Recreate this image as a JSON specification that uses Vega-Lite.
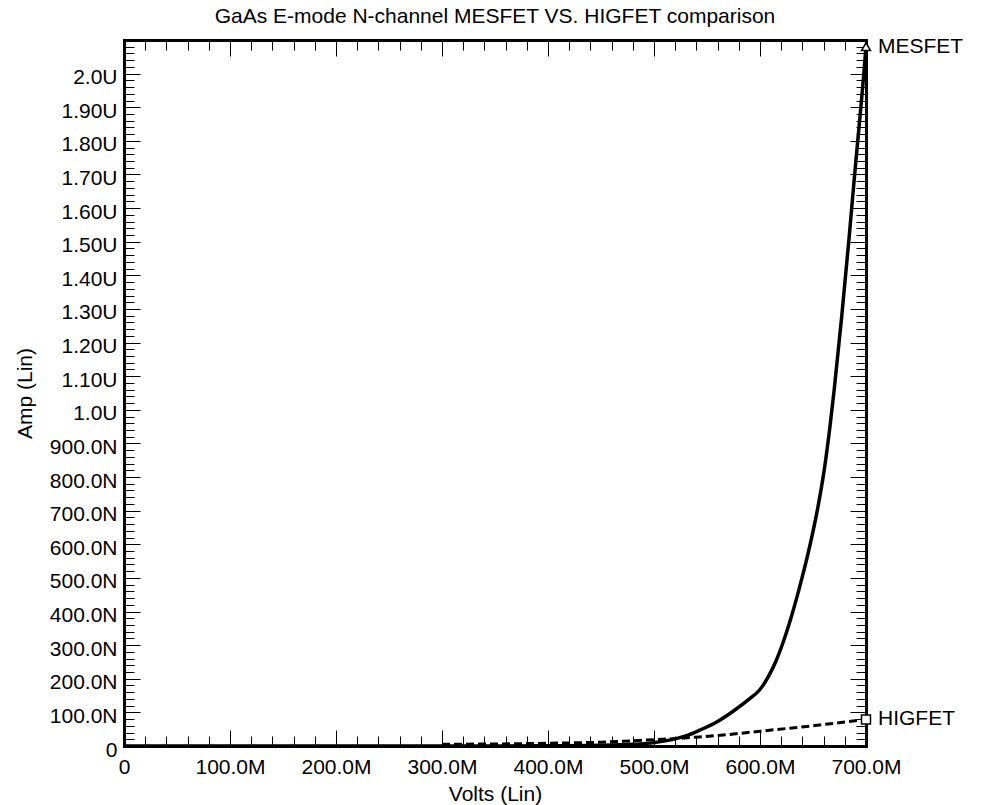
{
  "$schema": "https://vega.github.io/schema/vega-lite/v6.json",
  "width": 742,
  "height": 706,
  "autosize": {"type": "none"},
  "padding": {"left": 124, "top": 40, "right": 115, "bottom": 59},
  "background": "white",
  "title": {"text": "GaAs E-mode N-channel MESFET VS. HIGFET comparison", "font": "Liberation Sans", "fontSize": 21, "fontWeight": "normal", "color": "black", "offset": 9, "anchor": "middle"},
  "config": {
    "view": {"stroke": null},
    "axis": {"labelFont": "Liberation Sans", "titleFont": "Liberation Sans", "labelFontSize": 21, "titleFontSize": 21, "titleFontWeight": "normal", "labelColor": "black", "titleColor": "black", "grid": false, "domainColor": "black", "tickColor": "black", "labelOverlap": false, "labelFlush": false, "labelBound": false}
  },
  "data": {"values": [
    {"device": "MESFET", "mV": 0, "nA": 0},
    {"device": "MESFET", "mV": 100, "nA": 0},
    {"device": "MESFET", "mV": 200, "nA": 0},
    {"device": "MESFET", "mV": 300, "nA": 0},
    {"device": "MESFET", "mV": 400, "nA": 0.5},
    {"device": "MESFET", "mV": 450, "nA": 2},
    {"device": "MESFET", "mV": 480, "nA": 5},
    {"device": "MESFET", "mV": 500, "nA": 10},
    {"device": "MESFET", "mV": 517, "nA": 19},
    {"device": "MESFET", "mV": 530, "nA": 30},
    {"device": "MESFET", "mV": 543, "nA": 47},
    {"device": "MESFET", "mV": 560, "nA": 73},
    {"device": "MESFET", "mV": 574, "nA": 102},
    {"device": "MESFET", "mV": 590, "nA": 140},
    {"device": "MESFET", "mV": 600, "nA": 168},
    {"device": "MESFET", "mV": 608, "nA": 207},
    {"device": "MESFET", "mV": 615, "nA": 252},
    {"device": "MESFET", "mV": 622, "nA": 310},
    {"device": "MESFET", "mV": 628, "nA": 368},
    {"device": "MESFET", "mV": 637, "nA": 468},
    {"device": "MESFET", "mV": 647, "nA": 595},
    {"device": "MESFET", "mV": 654, "nA": 700},
    {"device": "MESFET", "mV": 661, "nA": 830},
    {"device": "MESFET", "mV": 666, "nA": 950},
    {"device": "MESFET", "mV": 670, "nA": 1060},
    {"device": "MESFET", "mV": 677, "nA": 1275},
    {"device": "MESFET", "mV": 684, "nA": 1510},
    {"device": "MESFET", "mV": 689, "nA": 1690},
    {"device": "MESFET", "mV": 694, "nA": 1860},
    {"device": "MESFET", "mV": 697, "nA": 1965},
    {"device": "MESFET", "mV": 700, "nA": 2080},
    {"device": "HIGFET", "mV": 300, "nA": 5},
    {"device": "HIGFET", "mV": 350, "nA": 6},
    {"device": "HIGFET", "mV": 400, "nA": 8},
    {"device": "HIGFET", "mV": 450, "nA": 11},
    {"device": "HIGFET", "mV": 489, "nA": 17},
    {"device": "HIGFET", "mV": 520, "nA": 22},
    {"device": "HIGFET", "mV": 543, "nA": 27},
    {"device": "HIGFET", "mV": 570, "nA": 34},
    {"device": "HIGFET", "mV": 600, "nA": 44},
    {"device": "HIGFET", "mV": 650, "nA": 60},
    {"device": "HIGFET", "mV": 700, "nA": 79}
  ]},
  "resolve": {"axis": {"x": "independent", "y": "independent"}},
  "layer": [
    {
      "transform": [{"filter": "datum.device === 'MESFET'"}],
      "mark": {"type": "line", "stroke": "black", "strokeWidth": 3.5, "interpolate": "monotone"},
      "encoding": {
        "x": {"field": "mV", "type": "quantitative", "scale": {"domain": [0, 700], "nice": false, "zero": false},
          "axis": {"orient": "bottom", "title": null, "labels": false, "values": [0,20,40,60,80,100,120,140,160,180,200,220,240,260,280,300,320,340,360,380,400,420,440,460,480,500,520,540,560,580,600,620,640,660,680,700],
            "tickSize": {"condition": {"test": "datum.value % 100 === 0", "value": -16}, "value": -10}, "tickWidth": 1, "domainWidth": 3, "domainCap": "square"}},
        "y": {"field": "nA", "type": "quantitative", "scale": {"domain": [0, 2100], "nice": false, "zero": false},
          "axis": {"orient": "left", "title": null, "labels": false, "values": [0,20,40,60,80,100,120,140,160,180,200,220,240,260,280,300,320,340,360,380,400,420,440,460,480,500,520,540,560,580,600,620,640,660,680,700,720,740,760,780,800,820,840,860,880,900,920,940,960,980,1000,1020,1040,1060,1080,1100,1120,1140,1160,1180,1200,1220,1240,1260,1280,1300,1320,1340,1360,1380,1400,1420,1440,1460,1480,1500,1520,1540,1560,1580,1600,1620,1640,1660,1680,1700,1720,1740,1760,1780,1800,1820,1840,1860,1880,1900,1920,1940,1960,1980,2000,2020,2040,2060,2080],
            "tickSize": {"condition": {"test": "datum.value % 100 === 0", "value": -16}, "value": -10}, "tickWidth": 1, "domainWidth": 3, "domainCap": "square"}}
      }
    },
    {
      "transform": [{"filter": "datum.device === 'HIGFET'"}],
      "mark": {"type": "line", "stroke": "black", "strokeWidth": 3, "strokeDash": [8, 4]},
      "encoding": {
        "x": {"field": "mV", "type": "quantitative",
          "axis": {"orient": "top", "title": null, "labels": false, "values": [0,20,40,60,80,100,120,140,160,180,200,220,240,260,280,300,320,340,360,380,400,420,440,460,480,500,520,540,560,580,600,620,640,660,680,700],
            "tickSize": {"condition": {"test": "datum.value % 100 === 0", "value": -16}, "value": -10}, "tickWidth": 1, "domainWidth": 3, "domainCap": "square"}},
        "y": {"field": "nA", "type": "quantitative",
          "axis": {"orient": "right", "title": null, "labels": false, "values": [0,20,40,60,80,100,120,140,160,180,200,220,240,260,280,300,320,340,360,380,400,420,440,460,480,500,520,540,560,580,600,620,640,660,680,700,720,740,760,780,800,820,840,860,880,900,920,940,960,980,1000,1020,1040,1060,1080,1100,1120,1140,1160,1180,1200,1220,1240,1260,1280,1300,1320,1340,1360,1380,1400,1420,1440,1460,1480,1500,1520,1540,1560,1580,1600,1620,1640,1660,1680,1700,1720,1740,1760,1780,1800,1820,1840,1860,1880,1900,1920,1940,1960,1980,2000,2020,2040,2060,2080],
            "tickSize": {"condition": {"test": "datum.value % 100 === 0", "value": -16}, "value": -10}, "tickWidth": 1, "domainWidth": 3, "domainCap": "square"}}
      }
    },
    {
      "transform": [{"filter": "datum.mV === 700"}],
      "mark": {"type": "point", "filled": true, "fill": "white", "stroke": "black", "strokeWidth": 1.5, "size": 80, "opacity": 1},
      "encoding": {
        "x": {"field": "mV", "type": "quantitative",
          "axis": {"orient": "bottom", "title": "Volts (Lin)", "titlePadding": 6, "ticks": false, "domain": false, "values": [0,100,200,300,400,500,600,700], "labelPadding": 10,
            "labelExpr": "datum.value === 0 ? '0' : datum.value + '.0M'"}},
        "y": {"field": "nA", "type": "quantitative",
          "axis": {"orient": "left", "title": "Amp (Lin)", "titlePadding": 14, "ticks": false, "domain": false, "values": [0,100,200,300,400,500,600,700,800,900,1000,1100,1200,1300,1400,1500,1600,1700,1800,1900,2000], "labelPadding": 7, "labelOffset": 4,
            "labelExpr": "datum.value === 0 ? '0' : datum.value < 1000 ? datum.value + '.0N' : datum.value % 1000 === 0 ? (datum.value / 1000) + '.0U' : format(datum.value / 1000, '.2f') + 'U'"}},
        "shape": {"field": "device", "type": "nominal", "scale": {"domain": ["MESFET", "HIGFET"], "range": ["triangle-up", "square"]}, "legend": null}
      }
    },
    {
      "transform": [{"filter": "datum.mV === 700"}],
      "mark": {"type": "text", "align": "left", "baseline": "middle", "dx": 12, "font": "Liberation Sans", "fontSize": 21, "fill": "black"},
      "encoding": {
        "x": {"field": "mV", "type": "quantitative", "axis": null},
        "y": {"field": "nA", "type": "quantitative", "axis": null},
        "text": {"field": "device", "type": "nominal"}
      }
    }
  ]
}
